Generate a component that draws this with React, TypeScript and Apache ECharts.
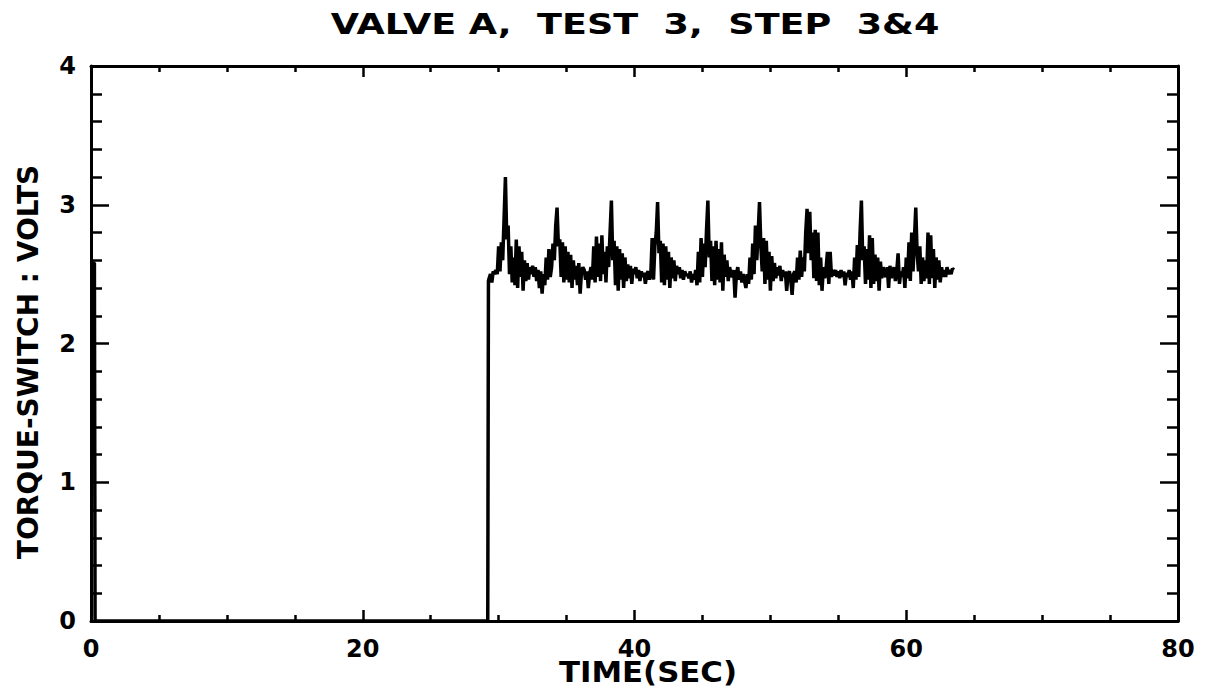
import React, { useEffect, useRef } from "react";
import * as echarts from "echarts";

const TITLE = "VALVE A,  TEST  3,  STEP  3&4";
const X_NAME = "TIME(SEC)";
const Y_NAME = "TORQUE-SWITCH : VOLTS";

const X_MIN = 0;
const X_MAX = 80;
const X_STEP = 20;
const Y_MIN = 0;
const Y_MAX = 4;
const Y_STEP = 1;

// initial spike at t=0 and flat zero section before the step
const PRE_TIMES = [0, 0.25, 0.3, 29.2, 29.25];
const PRE_VALUES = [2.58, 2.58, 0, 0, 2.45];

// sampled torque-switch signal after the step (every 0.1 s from 29.3 s)
const SIGNAL_START = 29.3;
const SIGNAL_STEP = 0.1;
const SIGNAL_VALUES = [
  2.47, 2.5, 2.44, 2.52, 2.5, 2.53, 2.5, 2.7, 2.52, 2.73,
  2.6, 2.9, 3.2, 2.75, 2.85, 2.5, 2.7, 2.44, 2.62, 2.42,
  2.75, 2.4, 2.7, 2.48, 2.66, 2.38, 2.6, 2.45, 2.58, 2.46,
  2.55, 2.5, 2.56, 2.48, 2.55, 2.45, 2.53, 2.4, 2.52, 2.36,
  2.5, 2.42, 2.62, 2.46, 2.68, 2.48, 2.55, 2.72, 2.6, 2.85,
  2.98, 2.7, 2.75, 2.48, 2.73, 2.44, 2.7, 2.46, 2.66, 2.44,
  2.64, 2.4, 2.6, 2.46, 2.56, 2.42, 2.58, 2.36, 2.52, 2.55,
  2.53, 2.46, 2.52, 2.4, 2.5, 2.55, 2.46, 2.7, 2.44, 2.77,
  2.48, 2.72, 2.45, 2.78, 2.5, 2.66, 2.44, 2.7, 2.55, 2.8,
  3.03, 2.6, 2.74, 2.42, 2.7, 2.38, 2.68, 2.46, 2.65, 2.4,
  2.62, 2.45, 2.57, 2.47, 2.56, 2.43, 2.54, 2.5, 2.55, 2.47,
  2.53, 2.45, 2.52, 2.48, 2.51, 2.43, 2.5, 2.52, 2.46, 2.5,
  2.76, 2.46, 2.7, 2.8, 3.02, 2.65, 2.74, 2.44, 2.72, 2.42,
  2.7, 2.46, 2.66, 2.4, 2.62, 2.47, 2.6, 2.45, 2.56, 2.5,
  2.55, 2.47, 2.53, 2.46, 2.52, 2.49, 2.5, 2.47, 2.52, 2.44,
  2.5, 2.46, 2.53, 2.42, 2.66, 2.44, 2.76, 2.48, 2.72, 2.55,
  2.82, 3.03, 2.62, 2.74, 2.45, 2.7, 2.42, 2.74, 2.46, 2.68,
  2.44, 2.73, 2.38, 2.64, 2.48, 2.6, 2.45, 2.55, 2.5, 2.48,
  2.53, 2.33, 2.5, 2.55, 2.46, 2.52, 2.44, 2.5, 2.45, 2.4,
  2.5, 2.43, 2.62, 2.46, 2.72, 2.5, 2.85, 2.6, 2.8, 3.02,
  2.7, 2.52, 2.76, 2.43, 2.74, 2.46, 2.66, 2.38, 2.63, 2.45,
  2.58, 2.47, 2.55, 2.49, 2.56, 2.45, 2.53, 2.48, 2.52, 2.38,
  2.5, 2.52, 2.46, 2.35, 2.5, 2.52, 2.44, 2.62, 2.46, 2.67,
  2.48, 2.62, 2.52, 2.8, 2.97, 2.65, 2.95, 2.6, 2.8, 2.47,
  2.82, 2.45, 2.8, 2.42, 2.62, 2.38, 2.55, 2.47, 2.54, 2.66,
  2.43, 2.66, 2.48, 2.53, 2.49, 2.53, 2.48, 2.52, 2.47, 2.53,
  2.48, 2.52, 2.42, 2.51, 2.48, 2.53, 2.46, 2.52, 2.4, 2.62,
  2.46, 2.71, 2.48, 2.8, 3.03, 2.6, 2.7, 2.43, 2.68, 2.46,
  2.78, 2.4, 2.76, 2.43, 2.64, 2.45, 2.62, 2.38, 2.59, 2.47,
  2.55, 2.5, 2.48, 2.55, 2.4, 2.56, 2.47, 2.52, 2.55, 2.45,
  2.52, 2.65, 2.43, 2.52, 2.48, 2.55, 2.4, 2.62, 2.47, 2.73,
  2.45, 2.8, 2.52, 2.75, 2.98, 2.65, 2.52, 2.7, 2.43, 2.62,
  2.45, 2.6, 2.47, 2.8, 2.43, 2.78, 2.47, 2.68, 2.4, 2.62,
  2.46, 2.6, 2.44, 2.55, 2.48, 2.53, 2.48, 2.55, 2.5, 2.53,
  2.5, 2.54, 2.53,
];

const FONT = "DejaVu Sans";

export default function App() {
  const ref = useRef<HTMLDivElement>(null);

  useEffect(() => {
    if (!ref.current) return;
    const chart = echarts.init(ref.current, undefined, { renderer: "svg" });

    const data: [number, number][] = [];
    PRE_TIMES.forEach((t, i) => data.push([t, PRE_VALUES[i]]));
    SIGNAL_VALUES.forEach((v, i) =>
      data.push([+(SIGNAL_START + i * SIGNAL_STEP).toFixed(2), v])
    );

    const lineStyle = { color: "#000", width: 3 };
    const labelStyle = {
      color: "#000",
      fontFamily: FONT,
      fontSize: 24,
      fontWeight: "bold" as const,
    };

    const xCommon = {
      type: "value" as const,
      min: X_MIN,
      max: X_MAX,
      interval: X_STEP,
      splitLine: { show: false },
      axisLine: { show: true, onZero: false, lineStyle },
      axisTick: { show: true, inside: true, length: 11, lineStyle: { color: "#000", width: 2.5 } },
      minorTick: { show: true, splitNumber: 4, length: 6, lineStyle: { color: "#000", width: 2.5 } },
    };
    const yCommon = {
      type: "value" as const,
      min: Y_MIN,
      max: Y_MAX,
      interval: Y_STEP,
      splitLine: { show: false },
      axisLine: { show: true, onZero: false, lineStyle },
      axisTick: { show: true, inside: true, length: 18, lineStyle: { color: "#000", width: 2.5 } },
      minorTick: { show: true, splitNumber: 5, length: 11, lineStyle: { color: "#000", width: 2.5 } },
    };

    chart.setOption({
      animation: false,
      backgroundColor: "#fff",
      grid: { left: 91, top: 66, width: 1087, height: 555, containLabel: false },
      xAxis: [
        {
          ...xCommon,
          position: "bottom",
          axisLabel: { ...labelStyle, margin: 16 },
        },
        {
          ...xCommon,
          position: "top",
          axisLabel: { show: false },
        },
      ],
      yAxis: [
        {
          ...yCommon,
          position: "left",
          axisLabel: { ...labelStyle, margin: 15 },
        },
        {
          ...yCommon,
          position: "right",
          axisLabel: { show: false },
        },
      ],
      graphic: [
        {
          type: "text",
          x: 635,
          y: 24,
          scaleX: 1.26,
          style: {
            text: TITLE,
            font: `bold 29px '${FONT}'`,
            fill: "#000",
            align: "center",
            verticalAlign: "middle",
          },
        },
        {
          type: "text",
          x: 648,
          y: 672,
          scaleX: 1.1,
          style: {
            text: X_NAME,
            font: `bold 28px '${FONT}'`,
            fill: "#000",
            align: "center",
            verticalAlign: "middle",
          },
        },
        {
          type: "text",
          x: 28,
          y: 362,
          rotation: Math.PI / 2,
          style: {
            text: Y_NAME,
            font: `bold 28px '${FONT}'`,
            fill: "#000",
            align: "center",
            verticalAlign: "middle",
          },
        },
      ],
      series: [
        {
          type: "line",
          xAxisIndex: 0,
          yAxisIndex: 0,
          data,
          showSymbol: false,
          lineStyle: { color: "#000", width: 3.5 },
          silent: true,
        },
      ],
    });

    return () => chart.dispose();
  }, []);

  return (
    <div
      ref={ref}
      style={{ position: "fixed", left: 0, top: 0, width: 1207, height: 692, background: "#fff" }}
    />
  );
}
